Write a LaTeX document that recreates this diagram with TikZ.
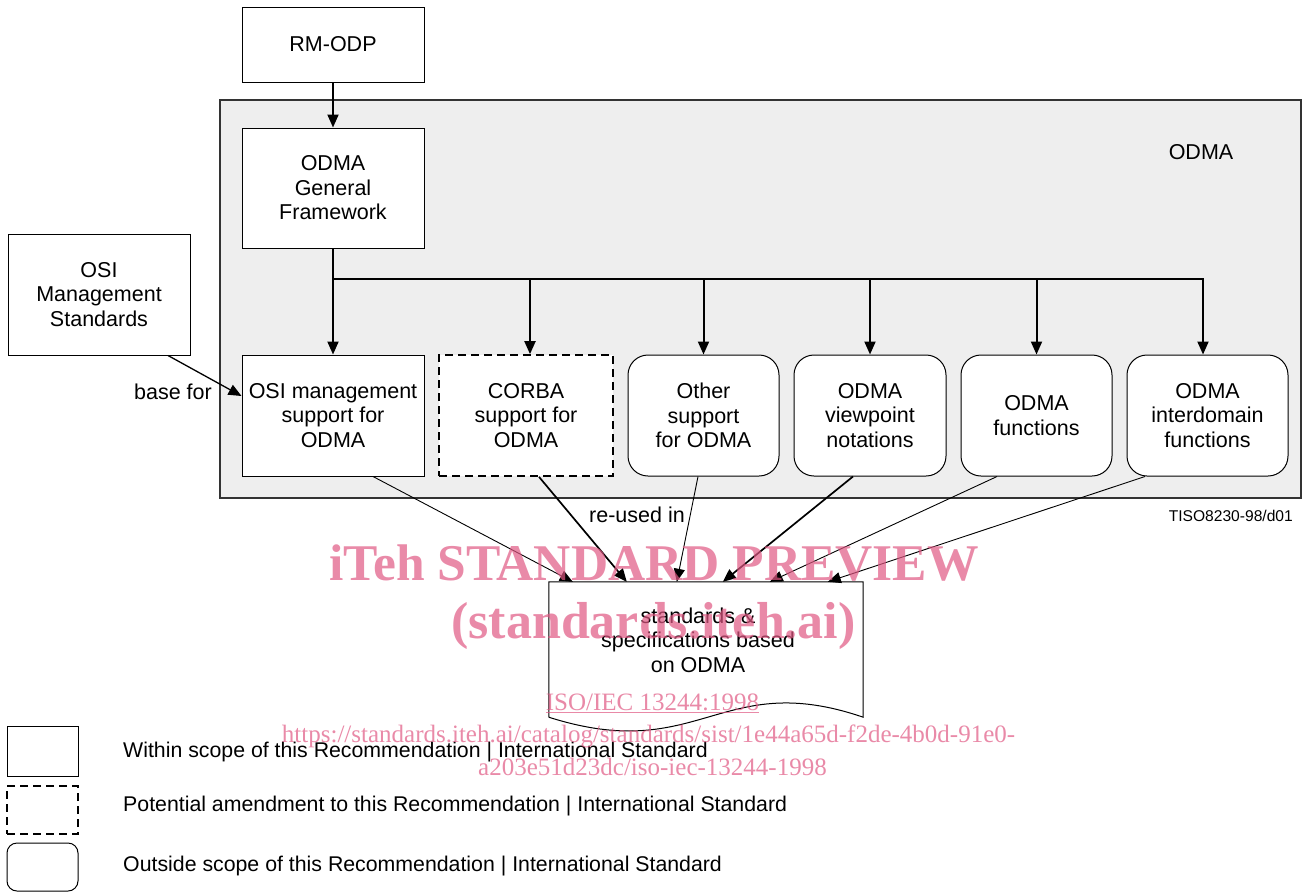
\documentclass[tikz,border=0pt]{standalone}
\usepackage{fontspec}
\setmainfont{Liberation Sans}
\newfontfamily\wmfont{Liberation Serif}
\usetikzlibrary{arrows.meta,calc}
\definecolor{odmagray}{RGB}{238,238,238}
\definecolor{wmpink}{RGB}{224,88,131}
\tikzset{
 txt/.style={font=\fontsize{21.5}{24.5}\selectfont, align=center, inner sep=0pt},
 legtxt/.style={txt, font=\fontsize{21.3}{24.5}\selectfont, anchor=west},
 sbox/.style={txt, draw=black, line width=1pt, fill=white, minimum height=121pt},
 dbox/.style={sbox, line width=1.7pt, dash pattern=on 8pt off 5pt},
 rbox/.style={sbox, rounded corners=20pt},
 conn/.style={line width=2pt, -{Triangle[length=13pt,width=11pt]}},
 thinarr/.style={line width=0.9pt, -{Triangle[length=13pt,width=11pt]}},
 thickarr/.style={line width=1.7pt, -{Triangle[length=13pt,width=11pt]}},
 wm/.style={text=wmpink, opacity=0.7, inner sep=0pt},
}
\begin{document}
\begin{tikzpicture}[x=1pt,y=-1pt]
\useasboundingbox (0,0) rectangle (1305,892);
% ODMA area
\node[draw=black!80, fill=odmagray, line width=1.2pt, minimum width=1081pt, minimum height=398pt, inner sep=0pt] (odma) at (760.5,299) {};
\node[txt] (odmalbl) at (1201,152) {ODMA};
% boxes
\node[sbox, minimum width=182pt, minimum height=75pt] (rmodp) at (333,44.5) {RM-ODP};
\node[sbox, minimum width=182pt, minimum height=120pt] (gf) at (333,188) {ODMA\\General\\Framework};
\node[sbox, minimum width=182pt] (osistd) at (99,294.5) {OSI\\Management\\Standards};
\node[sbox, minimum width=182pt] (osisup) at (333,415.5) {OSI management\\support for\\ODMA};
\node[dbox, minimum width=174pt] (corba) at (526,415.5) {CORBA\\support for\\ODMA};
\node[rbox, minimum width=151pt] (other) at (703.5,415.5) {Other\\support\\for ODMA};
\node[rbox, minimum width=152pt] (view) at (870,415.5) {ODMA\\viewpoint\\notations};
\node[rbox, minimum width=151pt] (func) at (1036.5,415.5) {ODMA\\functions};
\node[rbox, minimum width=161pt] (inter) at (1207.5,415.5) {ODMA\\interdomain\\functions};
% document
\node[minimum width=314pt, minimum height=135pt, inner sep=0pt] (doc) at (706,649.5) {};
\draw[line width=1pt, fill=white] (doc.south west) -- (doc.north west) -- (doc.north east) -- (doc.south east)
  .. controls ($(doc.south)+(14,-49)$) and ($(doc.south)+(-6,48)$) .. (doc.south west);
\node[txt] (doctext) at (698,640) {standards \&\\specifications based\\on ODMA};
% tree connectors
\draw[conn] (rmodp) -- (gf);
\draw[conn] (gf) -- (osisup);
\coordinate (bus) at (333,279);
\draw[conn] (bus) -| ([xshift=4pt]corba.north);
\draw[conn] (bus) -| (other.north);
\draw[conn] (bus) -| (view.north);
\draw[conn] (bus) -| (func.north);
\draw[conn] (bus) -| ([xshift=-4.5pt]inter.north);
% base for
\draw[line width=1.3pt, -{Triangle[length=13pt,width=11pt]}] ([xshift=69pt]osistd.south) -- ([yshift=19.5pt]osisup.west);
\node[txt, anchor=east] (basefor) at (212,392) {base for};
% re-used in
\draw[thinarr] ([xshift=40pt]osisup.south) -- ([xshift=24pt]doc.north west);
\draw[thickarr] ([xshift=13pt]corba.south) -- ([xshift=78pt]doc.north west);
\draw[thinarr] ([xshift=-5.5pt]other.south) -- ([xshift=128pt]doc.north west);
\draw[thickarr] ([xshift=-17pt]view.south) -- ([xshift=174pt]doc.north west);
\draw[thinarr] ([xshift=-39.5pt]func.south) -- ([xshift=221pt]doc.north west);
\draw[thinarr] ([xshift=-62.5pt]inter.south) -- ([xshift=279pt]doc.north west);
\node[txt] (reused) at (637,515) {re-used in};
\node[txt, anchor=east, font=\fontsize{15.6}{18}\selectfont] (tiso) at (1293,516) {TISO8230-98/d01};
% legend
\node[sbox, minimum width=71pt, minimum height=50pt] (leg1) at (42.5,751) {};
\node[dbox, minimum width=71pt, minimum height=48pt] (leg2) at (42.5,810) {};
\node[sbox, rounded corners=10pt, minimum width=71pt, minimum height=48pt] (leg3) at (42.5,867) {};
\node[legtxt] (legt1) at (123,752) {Within scope of this Recommendation | International Standard};
\node[legtxt] (legt2) at (123,806) {Potential amendment to this Recommendation | International Standard};
\node[legtxt] (legt3) at (123,866) {Outside scope of this Recommendation | International Standard};
% watermark
\node[wm, anchor=base west, font=\wmfont\bfseries\fontsize{51.5}{52}\selectfont] (wm1) at (329,580) {iTeh STANDARD PREVIEW};
\node[wm, anchor=base, font=\wmfont\bfseries\fontsize{52}{52}\selectfont] (wm2) at (653.5,638) {(standards.iteh.ai)};
\node[wm, anchor=base, font=\wmfont\fontsize{25}{25}\selectfont] (wm3) at (652.5,710) {\underline{ISO/IEC 13244:1998}};
\node[wm, anchor=base, font=\wmfont\fontsize{25}{25}\selectfont] (wm4) at (648.5,742) {https://standards.iteh.ai/catalog/standards/sist/1e44a65d-f2de-4b0d-91e0-};
\node[wm, anchor=base, font=\wmfont\fontsize{25}{25}\selectfont] (wm5) at (652.5,775) {a203e51d23dc/iso-iec-13244-1998};
\end{tikzpicture}
\end{document}
